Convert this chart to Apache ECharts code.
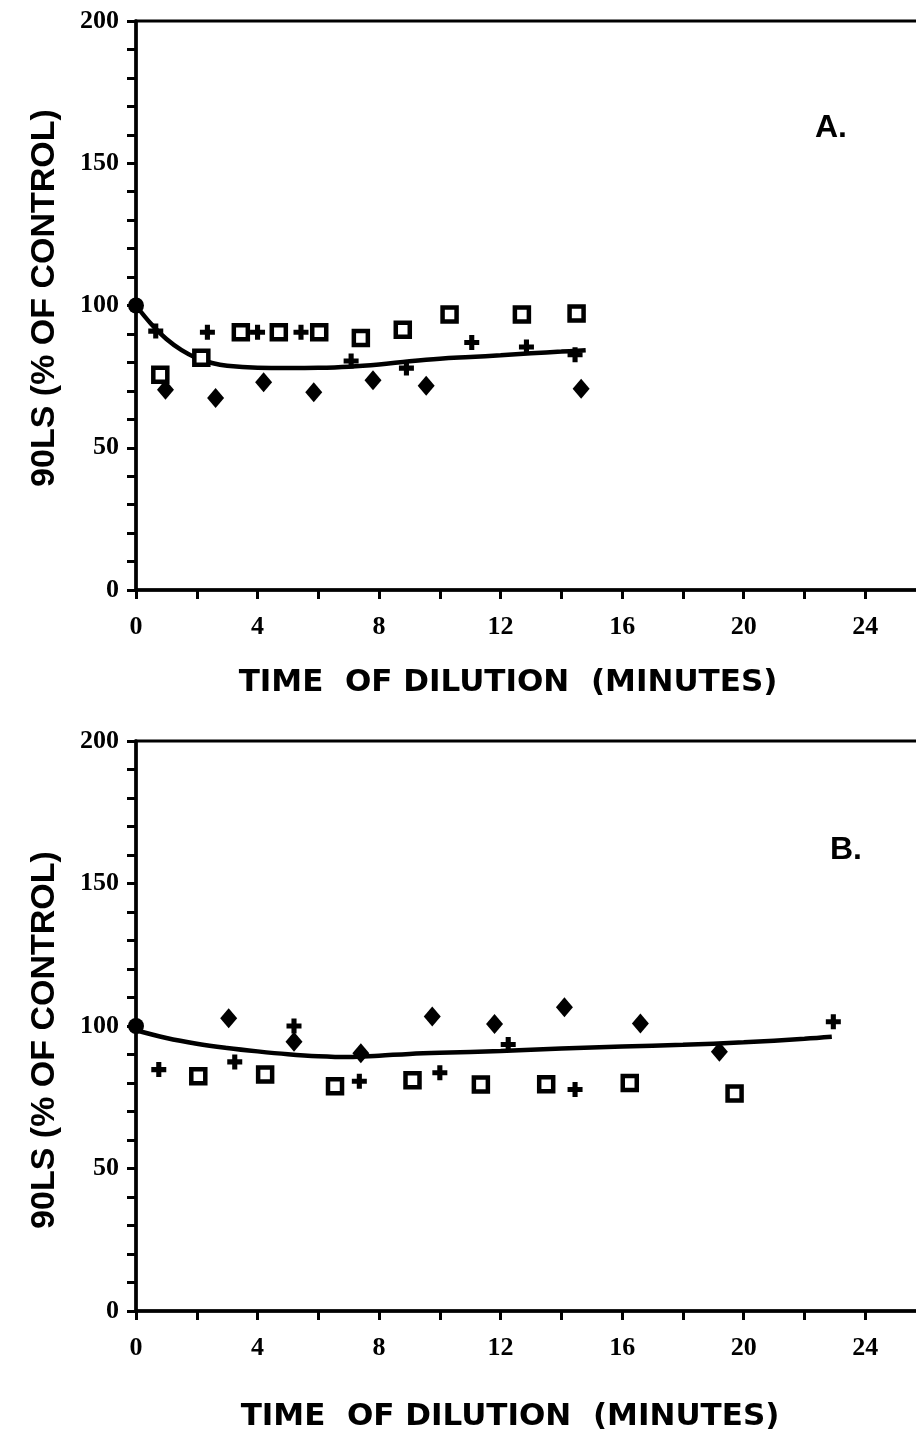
<!DOCTYPE html>
<html>
<head>
<meta charset="utf-8">
<script src="https://cdn.jsdelivr.net/npm/echarts@6/dist/echarts.min.js"></script>
<style>
  html, body { margin: 0; padding: 0; background: #fff; }
  #chart { width: 916px; height: 1446px; }
</style>
</head>
<body>
<div id="chart"></div>
<script>
// panel A - fitted curve
var curveAx = [0, 0.5, 1, 1.5, 2, 2.5, 3, 4, 5, 6, 7, 8, 9, 10, 11, 12, 13, 14, 14.8]
var curveAy = [100, 93.5, 88.2, 84.3, 81.5, 79.8, 78.8, 78.1, 78, 78.1, 78.5, 79.3, 80.4, 81.3, 81.9, 82.5, 83.2, 83.8, 84.3]
// panel A - measured points
var plusAx = [0.65, 2.35, 4.0, 5.43, 7.08, 8.9, 11.05, 12.85, 14.45]
var plusAy = [91, 90.6, 90.6, 90.6, 80.5, 78, 87, 85.4, 82.7]
var squareAx = [0.8, 2.15, 3.45, 4.7, 6.03, 7.4, 8.78, 10.32, 12.7, 14.5]
var squareAy = [75.7, 81.6, 90.6, 90.6, 90.6, 88.6, 91.5, 96.8, 96.8, 97.2]
var diamondAx = [0.97, 2.62, 4.2, 5.85, 7.8, 9.55, 14.65]
var diamondAy = [70.4, 67.5, 73, 69.5, 73.7, 71.8, 70.7]

// panel B - fitted curve
var curveBx = [0, 1, 2, 3, 4, 5, 6, 7, 8, 9, 10, 12, 14, 16, 18, 20, 22, 22.9]
var curveBy = [98.5, 95.8, 93.8, 92.3, 91.1, 90.1, 89.4, 89.1, 89.6, 90.2, 90.6, 91.2, 92.1, 92.8, 93.4, 94.3, 95.5, 96.2]
// panel B - measured points
var plusBx = [0.75, 3.25, 5.2, 7.35, 10.0, 12.25, 14.45, 22.95]
var plusBy = [84.7, 87.4, 100, 80.6, 83.6, 93.5, 77.7, 101.5]
var squareBx = [2.05, 4.25, 6.55, 9.1, 11.35, 13.5, 16.25, 19.7]
var squareBy = [82.4, 83, 78.9, 81, 79.5, 79.6, 80, 76.3]
var diamondBx = [3.05, 5.2, 7.4, 9.75, 11.8, 14.1, 16.6, 19.2]
var diamondBy = [102.7, 94.5, 90.4, 103.3, 100.7, 106.6, 100.9, 91]

var controlX = [0]
var controlY = [100]

var xTickLabels = [0, 4, 8, 12, 16, 20, 24]
var yTickLabels = [0, 50, 100, 150, 200]

var xTitle = 'TIME  OF DILUTION  (MINUTES)'
var yTitle = '90LS (% OF CONTROL)'

function pairs(xs, ys) {
  return xs.map(function (x, i) { return [x, ys[i]] })
}

var plusPath = 'path://M3.3,0 H6.7 V3.3 H10 V6.7 H6.7 V10 H3.3 V6.7 H0 V3.3 H3.3 Z'
var serifLabel = { fontFamily: 'Liberation Serif', fontWeight: 'bold', fontSize: 26, color: '#000' }

function xAxisFor(gridIndex) {
  return {
    type: 'value',
    gridIndex: gridIndex,
    min: 0,
    max: 26,
    interval: 2,
    axisLine: { lineStyle: { color: '#000', width: 3.5 } },
    axisTick: { length: 9, lineStyle: { color: '#000', width: 3 } },
    splitLine: { show: false },
    axisLabel: Object.assign({
      margin: 24,
      formatter: function (v) { return xTickLabels.indexOf(v) >= 0 ? String(v) : '' }
    }, serifLabel)
  }
}

function yAxisFor(gridIndex) {
  return {
    type: 'value',
    gridIndex: gridIndex,
    min: 0,
    max: 200,
    interval: 10,
    axisLine: { show: true, lineStyle: { color: '#000', width: 3.5 } },
    axisTick: { show: true, length: 9, lineStyle: { color: '#000', width: 3 } },
    splitLine: { show: false },
    axisLabel: Object.assign({
      margin: 17,
      formatter: function (v) { return yTickLabels.indexOf(v) >= 0 ? String(v) : '' }
    }, serifLabel)
  }
}

function panelSeries(idx, cx, cy, px, py, sx, sy, dx, dy) {
  return [
    {
      type: 'line', xAxisIndex: idx, yAxisIndex: idx,
      data: pairs(cx, cy), smooth: 0.4, showSymbol: false, symbol: 'none',
      lineStyle: { color: '#000', width: 4.5 }, z: 3
    },
    {
      type: 'scatter', xAxisIndex: idx, yAxisIndex: idx,
      data: pairs(sx, sy), symbol: 'rect', symbolSize: 14,
      itemStyle: { color: '#fff', borderColor: '#000', borderWidth: 4.5, opacity: 1 }, z: 4
    },
    {
      type: 'scatter', xAxisIndex: idx, yAxisIndex: idx,
      data: pairs(px, py), symbol: plusPath, symbolSize: 15,
      itemStyle: { color: '#000', opacity: 1 }, z: 4
    },
    {
      type: 'scatter', xAxisIndex: idx, yAxisIndex: idx,
      data: pairs(dx, dy), symbol: 'diamond', symbolSize: [17, 20],
      itemStyle: { color: '#000', opacity: 1 }, z: 4
    },
    {
      type: 'scatter', xAxisIndex: idx, yAxisIndex: idx,
      data: pairs(controlX, controlY), symbol: 'circle', symbolSize: 16,
      itemStyle: { color: '#000', opacity: 1 }, z: 5
    }
  ]
}

var xTitleFont = 'bold 31px "DejaVu Sans", "Liberation Sans", sans-serif'
var yTitleFont = 'bold 34px "Liberation Sans", Arial, sans-serif'
var panelFont = 'bold 32px "Liberation Sans", Arial, sans-serif'

var chart = echarts.init(document.getElementById('chart'), null, { renderer: 'canvas' })
chart.setOption({
  backgroundColor: '#fff',
  animation: false,
  grid: [
    { left: 136, top: 21, width: 790, height: 569, outerBoundsMode: 'none', show: true, borderColor: '#000', borderWidth: 3, backgroundColor: 'transparent' },
    { left: 136, top: 741, width: 790, height: 570, outerBoundsMode: 'none', show: true, borderColor: '#000', borderWidth: 3, backgroundColor: 'transparent' }
  ],
  xAxis: [xAxisFor(0), xAxisFor(1)],
  yAxis: [yAxisFor(0), yAxisFor(1)],
  series: panelSeries(0, curveAx, curveAy, plusAx, plusAy, squareAx, squareAy, diamondAx, diamondAy)
    .concat(panelSeries(1, curveBx, curveBy, plusBx, plusBy, squareBx, squareBy, diamondBx, diamondBy)),
  graphic: [
    { type: 'text', x: 508, y: 683, style: { text: xTitle, font: xTitleFont, fill: '#000', textAlign: 'center', textVerticalAlign: 'middle' } },
    { type: 'text', x: 510, y: 1417, style: { text: xTitle, font: xTitleFont, fill: '#000', textAlign: 'center', textVerticalAlign: 'middle' } },
    { type: 'text', x: 45, y: 298, rotation: Math.PI / 2, style: { text: yTitle, font: yTitleFont, fill: '#000', textAlign: 'center', textVerticalAlign: 'middle' } },
    { type: 'text', x: 45, y: 1040, rotation: Math.PI / 2, style: { text: yTitle, font: yTitleFont, fill: '#000', textAlign: 'center', textVerticalAlign: 'middle' } },
    { type: 'text', x: 815, y: 128, style: { text: 'A.', font: panelFont, fill: '#000', textVerticalAlign: 'middle' } },
    { type: 'text', x: 830, y: 850, style: { text: 'B.', font: panelFont, fill: '#000', textVerticalAlign: 'middle' } }
  ]
})
</script>
</body>
</html>
